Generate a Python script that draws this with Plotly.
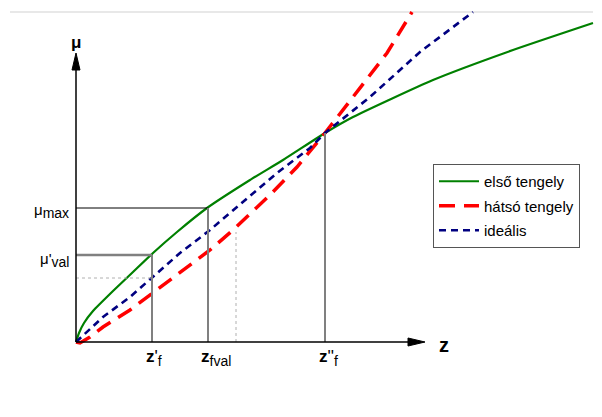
import plotly.graph_objects as go

# Data coordinates: z along x, mu along y (origin at axes crossing)
green_z = [0, 3, 8, 17, 37, 57, 77, 101, 131, 174, 207, 249, 277, 357, 437, 517]
green_mu = [0, 9, 19, 31, 51, 70, 89, 110, 134, 162, 182, 209, 225, 262, 292, 319]

red_z = [0, 4, 14, 27, 54, 77, 104, 134, 157, 194, 221, 237, 249, 277, 311, 336]
red_mu = [0, -1, 5, 15, 32, 49, 69, 92, 112, 147, 175, 194, 209, 245, 289, 330]

blue_z = [0, 27, 54, 77, 104, 134, 161, 201, 234, 249, 294, 344, 397]
blue_mu = [0, 25, 45, 65, 89, 112, 135, 169, 194, 209, 245, 290, 330]

names = ["első tengely", "hátsó tengely", "ideális"]

# key levels
z_f1, z_fval, z_dot, z_f2 = 76, 132, 160, 249
mu_max, mu_val, mu_dot, mu_dotv = 134, 87, 64, 110
z_axis_end, mu_axis_end = 349, 289
top_line = 330

FONT = "Liberation Sans, Arial, sans-serif"

fig = go.Figure()

fig.add_trace(go.Scatter(x=green_z, y=green_mu, mode="lines", name=names[0],
                         line=dict(color="#008000", width=2.2, shape="spline", smoothing=0.5), legendgroup="a"))
fig.add_trace(go.Scatter(x=red_z, y=red_mu, mode="lines", name=names[1],
                         line=dict(color="#ff0000", width=3.5, dash="16px,9px"), legendgroup="b"))
fig.add_trace(go.Scatter(x=blue_z, y=blue_mu, mode="lines", name=names[2],
                         line=dict(color="#000080", width=2.6, dash="7px,5px"), legendgroup="c"))

shapes = []
# top light frame line
shapes.append(dict(type="line", x0=-66, x1=517, y0=top_line, y1=top_line,
                   line=dict(color="#e0e0e0", width=1.5), layer="below"))
# reference lines
shapes.append(dict(type="line", x0=0, x1=z_fval, y0=mu_max, y1=mu_max, line=dict(color="black", width=1)))
shapes.append(dict(type="line", x0=z_fval, x1=z_fval, y0=0, y1=mu_max, line=dict(color="#808080", width=2)))
shapes.append(dict(type="line", x0=0, x1=z_f1, y0=mu_val, y1=mu_val, line=dict(color="#808080", width=2.5)))
shapes.append(dict(type="line", x0=z_f1, x1=z_f1, y0=0, y1=mu_val, line=dict(color="#808080", width=2)))
shapes.append(dict(type="line", x0=0, x1=z_f1, y0=mu_dot, y1=mu_dot, line=dict(color="#b0b0b0", width=1, dash="dot")))
shapes.append(dict(type="line", x0=z_dot, x1=z_dot, y0=0, y1=mu_dotv, line=dict(color="#b0b0b0", width=1, dash="dot")))
shapes.append(dict(type="line", x0=z_f2, x1=z_f2, y0=0, y1=green_mu[11], line=dict(color="#808080", width=2)))
# axes
shapes.append(dict(type="line", x0=0, x1=z_axis_end - 12, y0=0, y1=0, line=dict(color="black", width=1.5)))
shapes.append(dict(type="line", x0=0, x1=0, y0=0, y1=mu_axis_end - 12, line=dict(color="black", width=1.5)))
# arrowheads
shapes.append(dict(type="path", path=f"M {z_axis_end} 0 L {z_axis_end-17} 4 L {z_axis_end-17} -4 Z",
                   fillcolor="black", line=dict(color="black", width=1)))
shapes.append(dict(type="path", path=f"M 0 {mu_axis_end} L 4 {mu_axis_end-17} L -4 {mu_axis_end-17} Z",
                   fillcolor="black", line=dict(color="black", width=1)))


def sub(t, size):
    return f"<sub><span style='font-size:{size}px'>{t}</span></sub>"


annotations = [
    dict(x=z_axis_end + 12, y=-3, text="<b>z</b>", showarrow=False, xanchor="left", yanchor="middle",
         font=dict(size=20, family=FONT, color="black")),
    dict(x=0, y=mu_axis_end + 11, text="<b>μ</b>", showarrow=False, xanchor="center", yanchor="middle",
         font=dict(size=17, family=FONT, color="black")),
    dict(x=-5, y=mu_max - 3, text="μ" + sub("max", 14), showarrow=False, xanchor="right", yanchor="middle",
         font=dict(size=15, family=FONT, color="black")),
    dict(x=-5, y=mu_val - 5, text="μ'" + sub("val", 14), showarrow=False, xanchor="right", yanchor="middle",
         font=dict(size=15, family=FONT, color="black")),
    dict(x=z_f1 + 2, y=-16, text="<b>z</b>'" + sub("f", 14), showarrow=False, xanchor="center", yanchor="middle",
         font=dict(size=17, family=FONT, color="black")),
    dict(x=z_fval + 8, y=-16, text="<b>z</b>" + sub("fval", 14), showarrow=False, xanchor="center", yanchor="middle",
         font=dict(size=17, family=FONT, color="black")),
    dict(x=z_f2 + 3, y=-16, text="<b>z</b>''" + sub("f", 14), showarrow=False, xanchor="center", yanchor="middle",
         font=dict(size=17, family=FONT, color="black")),
]

fig.update_layout(
    width=602, height=417,
    margin=dict(l=0, r=0, t=0, b=0),
    paper_bgcolor="white", plot_bgcolor="white",
    xaxis=dict(range=[-76, 526], visible=False, fixedrange=True),
    yaxis=dict(range=[-75, 342], visible=False, fixedrange=True),
    shapes=shapes, annotations=annotations,
    showlegend=True,
    legend=dict(x=433/602, y=1-164/417, xanchor="left", yanchor="top",
                bgcolor="white", bordercolor="#555555", borderwidth=1,
                font=dict(size=15, family=FONT, color="black"),
                tracegroupgap=2, itemwidth=40),
    font=dict(family=FONT),
)

fig.write_html("out.html")
